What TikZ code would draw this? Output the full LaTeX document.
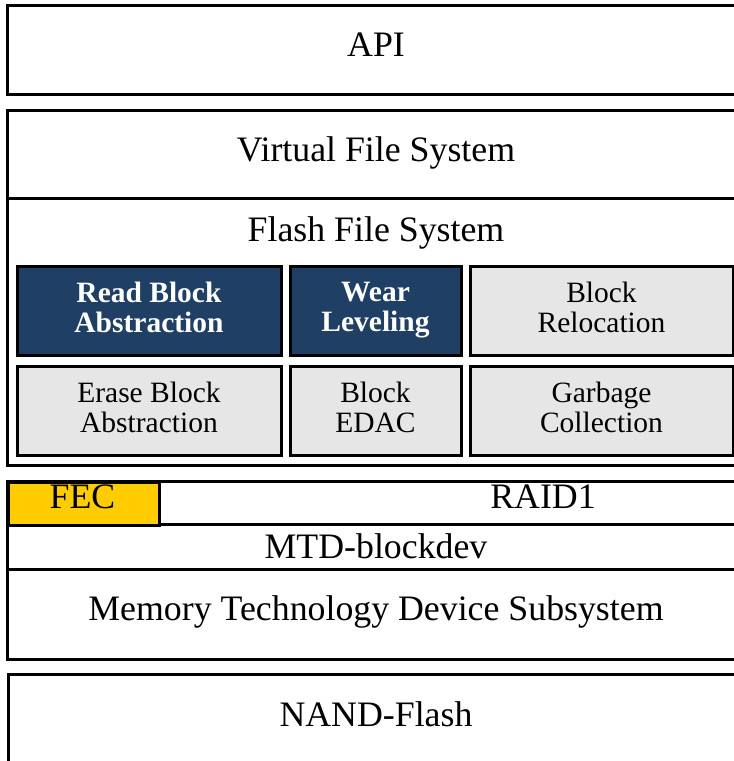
\documentclass[tikz,border=0pt]{standalone}
\usepackage{fontspec}
\setmainfont{Liberation Serif}
\definecolor{fsblue}{RGB}{31,63,100}
\definecolor{fsgray}{RGB}{230,230,230}
\definecolor{fecyellow}{RGB}{255,204,0}
\tikzset{
  frame/.style={draw=black, line width=3pt, inner sep=0pt},
  layertext/.style={anchor=base, inner sep=0pt, font=\fontsize{35.8}{42}\selectfont},
  fsblock/.style={draw=black, line width=3pt, inner sep=0pt, align=center,
    fill=fsgray, font=\fontsize{29.5}{30}\selectfont,
    execute at end node={\vphantom{g}}},
  hotblock/.style={fsblock, fill=fsblue, text=white,
    font=\fontsize{29.5}{30}\selectfont\bfseries},
}
\begin{document}
\begin{tikzpicture}[x=1pt, y=-1pt]
  \clip (0,0) rectangle (734,761);
  \fill[white] (0,0) rectangle (734,761);

  % API layer
  \node[frame, minimum width=738, minimum height=89] (api) at (376,49.5) {};
  \node[layertext] (apilbl) at (376,56) {API};

  % VFS and flash file system
  \node[frame, minimum width=738, minimum height=355] (fs) at (376,287.5) {};
  \coordinate (vfsdivL) at (7,198);
  \coordinate (vfsdivR) at (745,198);
  \draw[line width=3pt] (vfsdivL) -- (vfsdivR);
  \node[layertext] (vfs) at (376,161) {Virtual File System};
  \node[layertext] (ffs) at (376,241) {Flash File System};

  % components of the flash file system
  \node[hotblock, minimum width=264, minimum height=89] (rba) at (149,310.5) {Read Block\\Abstraction};
  \node[hotblock, minimum width=171, minimum height=89] (wl)  at (375.5,310.5) {Wear\\Leveling};
  \node[fsblock,  minimum width=263, minimum height=89] (br)  at (601.5,310.5) {Block\\Relocation};
  \node[fsblock,  minimum width=264, minimum height=89] (eba) at (149,410.5) {Erase Block\\Abstraction};
  \node[fsblock,  minimum width=171, minimum height=89] (be)  at (375.5,410.5) {Block\\EDAC};
  \node[fsblock,  minimum width=263, minimum height=89] (gc)  at (601.5,410.5) {Garbage\\Collection};

  % block device stack
  \node[frame, minimum width=738, minimum height=178] (mtd) at (376,570) {};
  \node[frame, fill=fecyellow, minimum width=151, minimum height=43, anchor=north west] (fecbox) at (7,481) {};
  \node[layertext] (fec) at (82.5,508) {FEC};
  \node[layertext] (raid) at (543,508) {RAID1};
  \coordinate (raidL) at (158,524);
  \coordinate (raidR) at (745,524);
  \draw[line width=3pt] (raidL) -- (raidR);
  \coordinate (bdL) at (7,569);
  \coordinate (bdR) at (745,569);
  \draw[line width=3pt] (bdL) -- (bdR);
  \node[layertext] (blockdev) at (376,558) {MTD-blockdev};
  \node[layertext] (mtdsub) at (376,620) {Memory Technology Device Subsystem};

  % hardware
  \node[frame, minimum width=738, minimum height=117, anchor=north west] (nand) at (7,673) {};
  \node[layertext] (nandlbl) at (376,726) {NAND-Flash};
\end{tikzpicture}
\end{document}
